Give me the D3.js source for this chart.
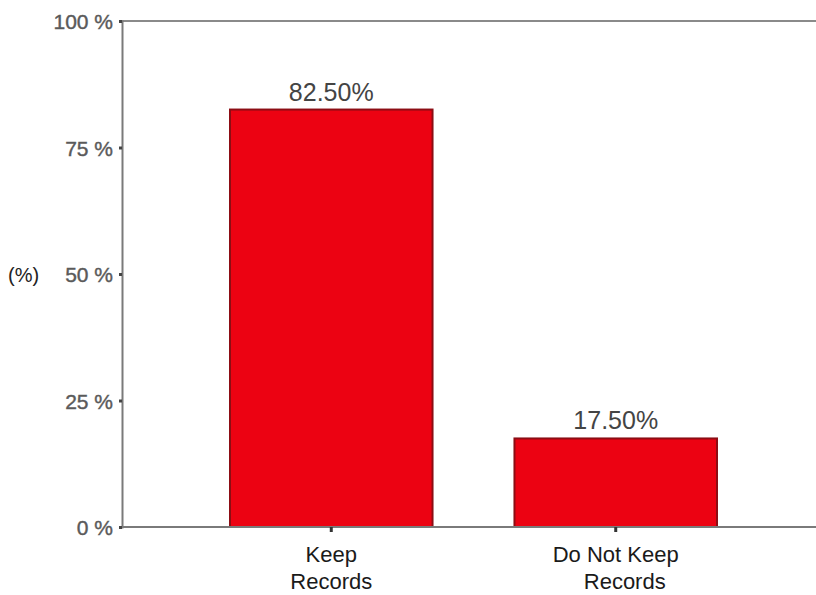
<!DOCTYPE html>
<html>
<head>
<meta charset="utf-8">
<script src="https://cdn.jsdelivr.net/npm/d3@7"></script>
<style>
  html, body { margin: 0; padding: 0; background: #fff; }
  svg { display: block; font-family: "Liberation Sans", Arial, sans-serif; }
</style>
</head>
<body>
<svg id="chart" width="816" height="595"></svg>
<script>
// Share of respondents by record-keeping practice
const categories = ["Keep Records", "Do Not Keep Records"];
const categoryLines = [["Keep", "Records"], ["Do Not Keep", "Records"]];
const percentages = [82.5, 17.5];
const valueLabels = ["82.50%", "17.50%"];
const yTicks = [0, 25, 50, 75, 100];
const yTickLabels = ["0 %", "25 %", "50 %", "75 %", "100 %"];

const svg = d3.select("#chart");
const axisX = 122, plotTop = 21, plotBottom = 527, plotRight = 816;

const y = d3.scaleLinear().domain([0, 100]).range([plotBottom, plotTop]);
const x = d3.scaleBand().domain(categories).range([230, 717])
  .paddingInner(0.288).paddingOuter(0);

// frame: top border runs to the right edge
svg.append("line").attr("x1", axisX).attr("x2", plotRight).attr("y1", plotTop).attr("y2", plotTop)
  .attr("stroke", "#8a8a8a").attr("stroke-width", 2);

// bars
svg.selectAll("rect.bar").data(categories).join("rect")
  .attr("class", "bar")
  .attr("x", d => x(d))
  .attr("y", (d, i) => y(percentages[i]))
  .attr("width", x.bandwidth())
  .attr("height", (d, i) => y(0) - y(percentages[i]))
  .attr("fill", "#ec0212")
  .attr("stroke", "#8c0d14")
  .attr("stroke-width", 2);

// y axis
const yAxis = d3.axisLeft(y).tickValues(yTicks)
  .tickFormat((d, i) => yTickLabels[i]).tickSize(3).tickPadding(6);
const gy = svg.append("g").attr("transform", `translate(${axisX},0)`).call(yAxis);
gy.select(".domain").attr("stroke", "#7a7a7a").attr("stroke-width", 2);
gy.selectAll(".tick line").attr("stroke", "#444").attr("stroke-width", 3);
gy.selectAll(".tick text").attr("fill", "#5a5a5a")
  .attr("stroke", "#5a5a5a").attr("stroke-width", 0.4)
  .style("font-size", "21px").attr("dy", "0.36em");

// x axis baseline
const xAxis = d3.axisBottom(x).tickSize(5).tickFormat("");
const gx = svg.append("g").attr("transform", `translate(0,${plotBottom})`).call(xAxis);
gx.select(".domain").remove();
gx.append("line").attr("x1", axisX).attr("x2", plotRight).attr("y1", 0).attr("y2", 0)
  .attr("stroke", "#7a7a7a").attr("stroke-width", 2).lower();
gx.selectAll(".tick line").attr("stroke", "#333").attr("stroke-width", 3);

// category labels (two lines)
categories.forEach((c, i) => {
  const cx = x(c) + x.bandwidth() / 2;
  const t = svg.append("text")
    .attr("x", cx)
    .attr("y", 562)
    .attr("text-anchor", "middle")
    .attr("fill", "#1a1a1a")
    .style("font-size", "22px");
  categoryLines[i].forEach((line, j) => {
    t.append("tspan").attr("x", cx + (i === 1 && j === 1 ? 9 : 0))
      .attr("dy", j === 0 ? 0 : 27).text(line);
  });
});

// value labels above bars
svg.selectAll("text.val").data(categories).join("text")
  .attr("class", "val")
  .attr("x", d => x(d) + x.bandwidth() / 2)
  .attr("y", (d, i) => y(percentages[i]) - 9)
  .attr("text-anchor", "middle")
  .attr("fill", "#444")
  .style("font-size", "25px")
  .text((d, i) => valueLabels[i]);

// y axis title
svg.append("text").attr("x", 8).attr("y", y(50) + 8)
  .attr("fill", "#222").style("font-size", "20px").text("(%)");
</script>
</body>
</html>
